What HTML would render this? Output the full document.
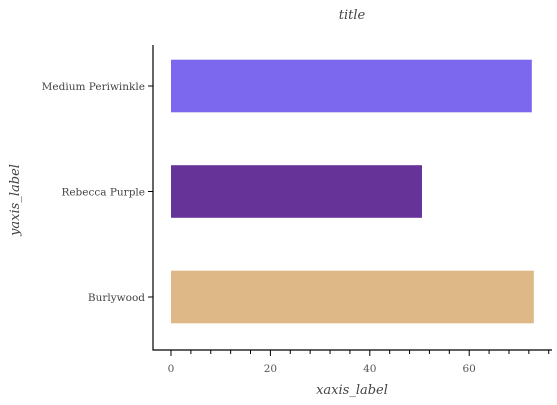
<!DOCTYPE html>
<html><head><meta charset="utf-8"><style>
body{margin:0;background:#fff}
svg text{font-family:"DejaVu Serif","Liberation Serif",serif}
</style></head><body>
<svg id="c" width="557" height="400"></svg>
<script>
const categories=["Burlywood","Rebecca Purple","Medium Periwinkle"];
const values=[73,50.5,72.6];
const colors=["#deb887","#663399","#7b68ee"];
const xTicks=[0,20,40,60];
const svg=document.getElementById('c');
const NS='http://www.w3.org/2000/svg';
const x=v=>171+v*4.97;
const yc=i=>297-i*105.5;
function el(t,a,txt){const e=document.createElementNS(NS,t);for(const k in a)e.setAttribute(k,a[k]);if(txt!==undefined)e.textContent=txt;svg.appendChild(e);return e;}
categories.forEach((c,i)=>{
  const r=el('rect',{x:x(0),y:yc(i)-26.3,width:x(values[i])-x(0),height:52.6,fill:colors[i]});
  
  
  const t=el('line',{x1:148,x2:153,y1:yc(i),y2:yc(i),stroke:'#000'});
  
  
  const l=el('text',{x:145,y:yc(i)+4,'text-anchor':'end','font-size':'10.5',fill:'#444'},c);
  
  
});
for(let v=0;v<=76;v+=4){
  const big=v%20===0;
  const t=el('line',{x1:x(v),x2:x(v),y1:350,y2:big?356:354,stroke:'#000'});
  
  
}
xTicks.forEach(v=>{
  const l=el('text',{x:x(v),y:372,'text-anchor':'middle','font-size':'10.5',fill:'#555'},String(v));
  
  
});
const ys=el('line',{x1:153,x2:153,y1:45,y2:350.5,stroke:'#000','stroke-width':1.2});


const xs=el('line',{x1:152.5,x2:552,y1:350,y2:350,stroke:'#000','stroke-width':1.2});


const xt=el('text',{x:352,y:394,'text-anchor':'middle','font-size':'13','font-style':'italic',fill:'#444'},'xaxis_label');


const yt=el('text',{x:0,y:0,transform:'translate(19,200) rotate(-90)','text-anchor':'middle','font-size':'13','font-style':'italic',fill:'#444'},'yaxis_label');


const tt=el('text',{x:352,y:19,'text-anchor':'middle','font-size':'13','font-style':'italic',fill:'#444'},'title');


</script>
</body></html>
